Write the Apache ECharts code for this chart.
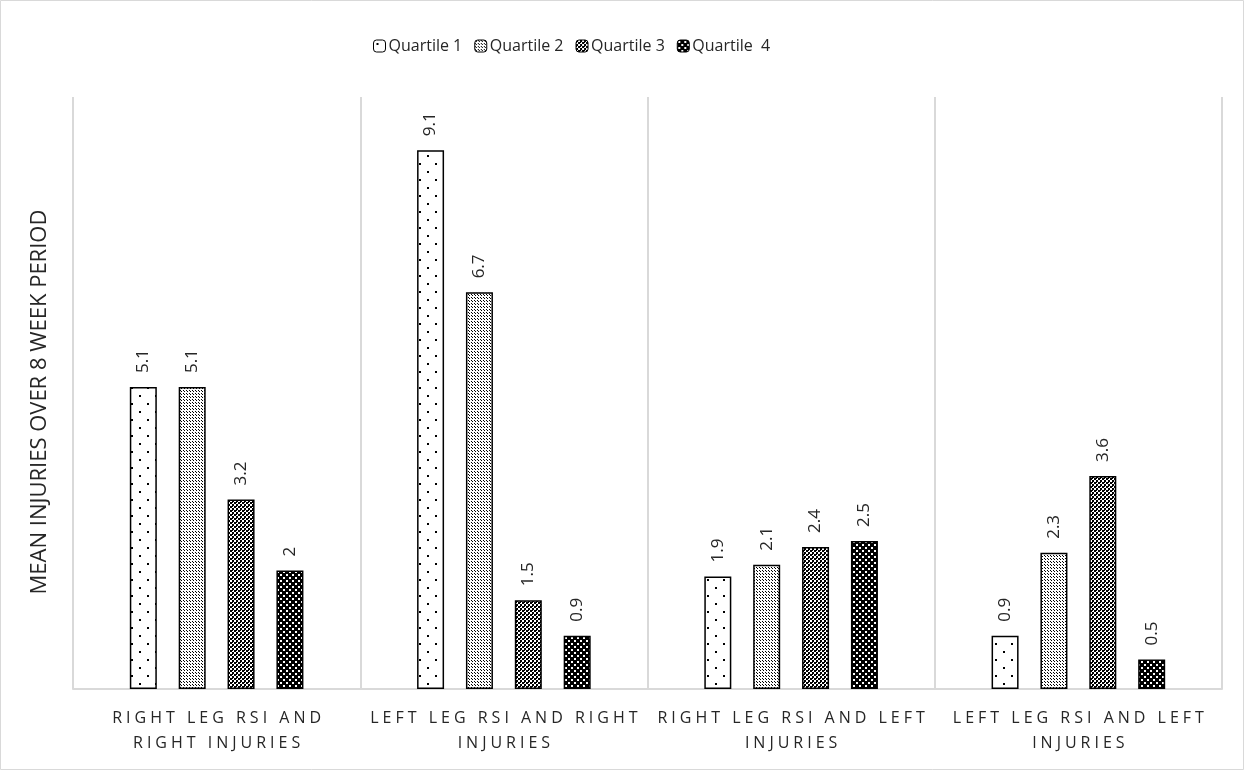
<!DOCTYPE html>
<html><head><meta charset="utf-8">
<script src="https://cdn.jsdelivr.net/npm/echarts@6/dist/echarts.min.js"></script>
<style>html,body{margin:0;padding:0;background:#fff}#c{width:1244px;height:770px}</style>
</head><body><div id="c"></div>
<script>
const categories = ['RIGHT LEG RSI AND\nRIGHT INJURIES', 'LEFT LEG RSI AND RIGHT\nINJURIES', 'RIGHT LEG RSI AND LEFT\nINJURIES', 'LEFT LEG RSI AND LEFT\nINJURIES'];
const seriesNames = ['Quartile 1', 'Quartile 2', 'Quartile 3', 'Quartile  4'];
const quartile1 = [5.1, 9.1, 1.9, 0.9];
const quartile2 = [5.1, 6.7, 2.1, 2.3];
const quartile3 = [3.2, 1.5, 2.4, 3.6];
const quartile4 = [2, 0.9, 2.5, 0.5];
const yTitle = 'MEAN INJURIES OVER 8 WEEK PERIOD';

function tile(w, h, bg, fg, dots) {
  const c = document.createElement('canvas');
  c.width = w; c.height = h;
  const g = c.getContext('2d');
  g.fillStyle = bg; g.fillRect(0, 0, w, h);
  g.fillStyle = fg;
  dots.forEach(d => g.fillRect(d[0], d[1], d[2], d[3]));
  return {image: c, repeat: 'repeat'};
}
const patterns = [
  tile(16, 16, '#ffffff', '#000000', [[3, 3, 2, 2], [11, 11, 2, 2]]),
  tile(3, 3, '#ffffff', '#000000', [[1, 1, 1, 1], [0, 0, 1, 1]]),
  tile(4, 4, '#ffffff', '#000000', [[0, 0, 2, 2], [2, 2, 2, 2], [0, 2, 1, 1]]),
  tile(6, 6, '#000000', '#ffffff', [[1, 1, 2, 2], [4, 4, 2, 2]])
];
const allData = [quartile1, quartile2, quartile3, quartile4];

function spaced(s) {
  return s.split('\n').map(l => l.split('').join('\u2005')).join('\n');
}

const chart = echarts.init(document.getElementById('c'), null, {renderer: 'canvas'});
chart.setOption({
  animation: false,
  backgroundColor: '#ffffff',
  textStyle: {fontFamily: 'Open Sans'},
  graphic: [
    {type: 'rect', shape: {x: 0.5, y: 0.5, width: 1243, height: 769}, style: {fill: 'none', stroke: '#d9d9d9', lineWidth: 1}, silent: true},
    {type: 'text', x: 40, y: 402, rotation: Math.PI / 2, style: {text: yTitle, fontSize: 22, fontFamily: 'Open Sans', fill: '#262626', align: 'center', verticalAlign: 'middle'}, silent: true}
  ],
  legend: {
    top: 33, left: 368, itemWidth: 12, itemHeight: 12, itemGap: 12,
    textStyle: {fontSize: 16, color: '#262626', fontFamily: 'Open Sans', padding: [0, 0, 0, -2]},
    data: seriesNames.map((n, i) => ({name: n, itemStyle: {borderColor: '#000', borderWidth: 1}}))
  },
  grid: {left: 73, right: 22, top: 97, bottom: 81},
  xAxis: {
    type: 'category', data: categories,
    axisLine: {show: true, lineStyle: {color: '#d9d9d9', width: 2}},
    axisTick: {show: false},
    splitLine: {show: true, lineStyle: {color: '#d9d9d9', width: 2}},
    axisLabel: {interval: 0, margin: 17, fontSize: 16, color: '#262626', lineHeight: 25, align: 'center', formatter: v => spaced(v)}
  },
  yAxis: {
    type: 'value', min: 0, max: 10,
    axisLine: {show: false}, axisTick: {show: false}, axisLabel: {show: false}, splitLine: {show: false}
  },
  series: allData.map((d, i) => ({
    name: seriesNames[i], type: 'bar', data: d,
    barWidth: 27, barGap: '81%',
    itemStyle: {color: patterns[i], borderColor: '#000', borderWidth: 1.5},
    label: {show: true, position: 'top', rotate: 90, align: 'left', verticalAlign: 'middle', distance: 14, fontSize: 17, color: '#262626'}
  }))
});
</script></body></html>
